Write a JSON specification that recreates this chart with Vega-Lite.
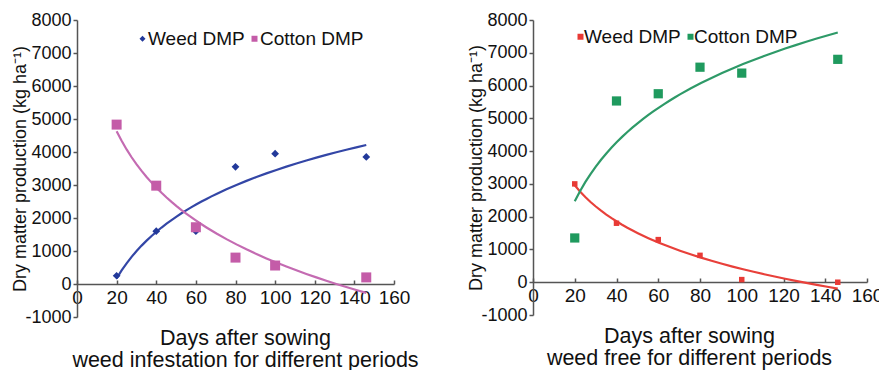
{
  "$schema": "https://vega.github.io/schema/vega-lite/v6.json",
  "background": "white",
  "padding": {"left": 11, "top": 11, "right": 0, "bottom": 0},
  "config": {
    "font": "Liberation Sans",
    "view": {"stroke": null},
    "axis": {"grid": false, "domainColor": "#555555", "tickColor": "#555555", "labelColor": "#111111", "titleColor": "#111111", "labelFont": "Liberation Sans", "titleFont": "Liberation Sans", "titleFontWeight": "normal", "labelFontSize": 18, "titleFontSize": 18, "domainWidth": 1.5, "tickWidth": 1.5},
    "legend": {"labelFont": "Liberation Sans", "labelFontSize": 19, "labelColor": "#111111"}
  },
  "datasets": {
    "left": [
      {"day": 20, "dmp": 250, "series": "Weed DMP"},
      {"day": 40, "dmp": 1600, "series": "Weed DMP"},
      {"day": 60, "dmp": 1600, "series": "Weed DMP"},
      {"day": 80, "dmp": 3550, "series": "Weed DMP"},
      {"day": 100, "dmp": 3950, "series": "Weed DMP"},
      {"day": 146, "dmp": 3850, "series": "Weed DMP"},
      {"day": 20, "dmp": 4830, "series": "Cotton DMP"},
      {"day": 40, "dmp": 2980, "series": "Cotton DMP"},
      {"day": 60, "dmp": 1720, "series": "Cotton DMP"},
      {"day": 80, "dmp": 800, "series": "Cotton DMP"},
      {"day": 100, "dmp": 560, "series": "Cotton DMP"},
      {"day": 146, "dmp": 200, "series": "Cotton DMP"}
    ],
    "right": [
      {"day": 20, "dmp": 3000, "series": "Weed DMP"},
      {"day": 40, "dmp": 1800, "series": "Weed DMP"},
      {"day": 60, "dmp": 1300, "series": "Weed DMP"},
      {"day": 80, "dmp": 820, "series": "Weed DMP"},
      {"day": 100, "dmp": 80, "series": "Weed DMP"},
      {"day": 146, "dmp": 0, "series": "Weed DMP"},
      {"day": 20, "dmp": 1350, "series": "Cotton DMP"},
      {"day": 40, "dmp": 5530, "series": "Cotton DMP"},
      {"day": 60, "dmp": 5750, "series": "Cotton DMP"},
      {"day": 80, "dmp": 6560, "series": "Cotton DMP"},
      {"day": 100, "dmp": 6380, "series": "Cotton DMP"},
      {"day": 146, "dmp": 6800, "series": "Cotton DMP"}
    ]
  },
  "spacing": 139,
  "bounds": "flush",
  "resolve": {
    "scale": {"x": "independent", "y": "independent", "color": "independent", "shape": "independent", "stroke": "independent", "size": "independent"}
  },
  "hconcat": [
    {
      "width": 317,
      "height": 297,
      "data": {"name": "left"},
      "encoding": {
        "x": {"field": "day", "type": "quantitative", "scale": {"domain": [0, 160], "nice": false}, "axis": {"values": [0, 20, 40, 60, 80, 100, 120, 140, 160], "offset": -33, "tickSize": -4, "labelPadding": 8, "labelFontSize": 19, "labelOverlap": false, "labelFlush": false, "labelExpr": "'' + datum.value", "title": ["Days after sowing", "weed infestation for different periods"], "titleFontSize": 21.5, "titleLineHeight": 22, "titlePadding": 20, "titleX": 168, "titleAlign": "center"}},
        "y": {"field": "dmp", "type": "quantitative", "scale": {"domain": [-1000, 8000], "nice": false, "zero": false}, "axis": {"values": [-1000, 0, 1000, 2000, 3000, 4000, 5000, 6000, 7000, 8000], "tickSize": 4, "labelPadding": 2, "labelOverlap": false, "labelExpr": "'' + datum.value", "title": "Dry matter production (kg ha⁻¹)", "titlePadding": -5}}
      },
      "layer": [
        {
          "transform": [{"regression": "dmp", "on": "day", "groupby": ["series"], "method": "log"}],
          "mark": {"type": "line", "strokeWidth": 2.2},
          "encoding": {
            "stroke": {"field": "series", "type": "nominal", "scale": {"domain": ["Cotton DMP", "Weed DMP"], "range": ["#c46bb2", "#3346a6"]}, "legend": null}
          }
        },
        {
          "mark": {"type": "point", "filled": true, "opacity": 1},
          "encoding": {
            "color": {"field": "series", "type": "nominal", "scale": {"domain": ["Weed DMP", "Cotton DMP"], "range": ["#22399a", "#c45ca8"]}, "legend": {"orient": "none", "legendX": 56, "legendY": 9, "direction": "horizontal", "title": null, "columnPadding": -4, "labelOffset": -4, "symbolSize": 36, "symbolStrokeWidth": 0}},
            "shape": {"field": "series", "type": "nominal", "scale": {"domain": ["Weed DMP", "Cotton DMP"], "range": ["diamond", "square"]}},
            "size": {"field": "series", "type": "nominal", "scale": {"domain": ["Cotton DMP", "Weed DMP"], "range": [100, 60]}, "legend": null}
          }
        }
      ]
    },
    {
      "width": 334,
      "height": 295,
      "data": {"name": "right"},
      "encoding": {
        "x": {"field": "day", "type": "quantitative", "scale": {"domain": [0, 160], "nice": false}, "axis": {"values": [0, 20, 40, 60, 80, 100, 120, 140, 160], "offset": -33, "tickSize": -4, "labelPadding": 8, "labelFontSize": 19, "labelOverlap": false, "labelFlush": false, "labelExpr": "'' + datum.value", "title": ["Days after sowing", "weed free for different periods"], "titleFontSize": 21.5, "titleLineHeight": 22, "titlePadding": 20, "titleX": 156, "titleAlign": "center"}},
        "y": {"field": "dmp", "type": "quantitative", "scale": {"domain": [-1000, 8000], "nice": false, "zero": false}, "axis": {"values": [-1000, 0, 1000, 2000, 3000, 4000, 5000, 6000, 7000, 8000], "tickSize": 4, "labelPadding": 2, "labelOverlap": false, "labelExpr": "'' + datum.value", "title": "Dry matter production (kg ha⁻¹)", "titlePadding": -5}}
      },
      "layer": [
        {
          "transform": [{"regression": "dmp", "on": "day", "groupby": ["series"], "method": "log"}],
          "mark": {"type": "line", "strokeWidth": 2.2},
          "encoding": {
            "stroke": {"field": "series", "type": "nominal", "scale": {"domain": ["Cotton DMP", "Weed DMP"], "range": ["#2e9a68", "#e8403a"]}, "legend": null}
          }
        },
        {
          "mark": {"type": "point", "filled": true, "opacity": 1},
          "encoding": {
            "color": {"field": "series", "type": "nominal", "scale": {"domain": ["Weed DMP", "Cotton DMP"], "range": ["#e83a35", "#1f9a5e"]}, "legend": {"orient": "none", "legendX": 38, "legendY": 7, "direction": "horizontal", "title": null, "columnPadding": -3, "labelOffset": -6, "symbolSize": 36, "symbolStrokeWidth": 0}},
            "shape": {"field": "series", "type": "nominal", "scale": {"domain": ["Weed DMP", "Cotton DMP"], "range": ["square", "square"]}},
            "size": {"field": "series", "type": "nominal", "scale": {"domain": ["Cotton DMP", "Weed DMP"], "range": [85, 30]}, "legend": null}
          }
        }
      ]
    }
  ]
}
